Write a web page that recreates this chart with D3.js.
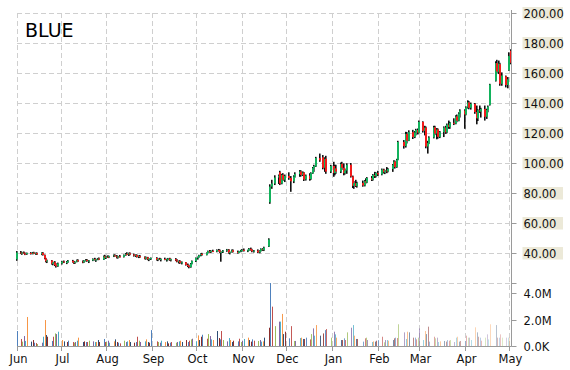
<!DOCTYPE html>
<html><head><meta charset="utf-8">
<script src="https://cdn.jsdelivr.net/npm/d3@7/dist/d3.min.js"></script>
<style>body{margin:0;background:#fff}svg{display:block}</style>
</head><body><svg id="c" width="570" height="370"></svg>
<script>
const title = "BLUE";
const startDate = "2018-06-01", endDate = "2019-05-02";
const holidays = ["2018-07-04","2018-09-03","2018-11-22","2018-12-05","2018-12-25","2019-01-01","2019-01-21","2019-02-18","2019-04-19"];
const priceTicks = [20,40,60,80,100,120,140,160,180,200];
const priceLabelMin = 40;
const volTicks = [0,2,4];
const volTickLabels = ["0.0K","2.0M","4.0M"];

// OHLC per trading day (grouped by month: Jun..May)
const open = [
36,40.5,40,40.5,39.8,39.5,40.2,39.6,40.4,39.9,40.1,39.3,40.3,38.9,36.5,34.6,35.2,33,34,32.2,31.4,
33.2,34.5,33.9,34.2,35,34.1,33.6,34.3,35.4,34.6,33.9,35.1,35.6,34.8,35.2,36.2,35.5,35.9,36.5,35.8,38,
37,37.8,37.4,38.1,38.6,38,37.2,38,37.6,38.9,39.6,39.1,40,39.2,38.4,38.8,37.6,38.2,37.4,36.4,37.3,35.9,36.4,
36.9,35.6,36.3,35.9,36.2,35.7,36,36.5,35.4,36.1,35.2,34.5,34.8,33.6,34,32.3,31.5,30.8,33,
34.8,36.8,37.5,38.6,39.6,38.9,40.2,41.4,40.9,41.6,41.2,42.2,41.6,40.6,41,41.8,42.4,40.3,40.9,42,41,40.2,41.3,
41.8,42.3,41.7,42,43,42.2,41.3,41.8,40.6,41.6,42.8,42.1,44.5,74,84.5,86.5,90.5,94,86.5,92.3,89,
91.6,90.2,88,91.2,92.8,94.5,92.2,93.8,89.2,91.8,89.5,93.4,96.8,98,103.5,104,97,103,94.5,
98.2,93.5,96.5,94.5,99.6,97,93.4,95.2,99,91.2,85,86.8,84.8,86.9,85.2,88.1,87.2,90.2,89,92.2,91.4,
93.5,92.6,95.8,94,95.2,94.6,96.2,98.8,101.2,97.5,102.4,114.2,111.5,119.6,115,120.8,117.5,120.6,122.2,
120.4,127.6,121.6,123.8,111.2,113.5,117.2,124,119.8,122.5,117.6,120.8,123.9,120.6,125.8,124.2,127,126.4,131.2,128.4,133.2,
135.2,132.5,137.2,140.6,137,139.6,134.2,130,135.4,134.5,136.2,131,135.6,139,155,166.8,161,166,153,158,152.2,
162,175];
const high = [
41.5,41.5,41,41.2,40.6,40.5,40.8,40.9,41,40.5,40.6,40.6,40.8,39.2,37,35.8,35.5,34.5,34.8,33.5,33.8,
35,35.2,34.8,35.5,35.6,34.9,34.6,35.8,36,35.2,35.4,36.1,36.2,35.5,36.6,37,36.4,36.9,37.2,38.5,39,
38.2,38.6,38.4,39.2,39.3,38.8,38.3,38.9,39.2,40.2,40.7,40.4,40.6,39.8,39.3,39.2,38.6,38.9,37.9,37.8,37.6,36.8,37.2,
37.4,36.8,37,36.6,37.1,36.4,36.9,37,36.4,36.8,36.2,35.2,35.4,34.6,34.2,33.2,32.4,33.5,35.2,
37.2,37.8,39,40,40.3,40.6,41.8,42.2,42,42.4,42.6,42.9,42.5,41.4,42.2,42.9,42.8,41.2,42.5,42.6,41.8,41.6,42.3,
42.8,43.2,42.4,43.5,43.8,43,42.2,42.6,42,43.3,43.4,44.4,50,86,89,92,92.5,95,93,93.4,92.5,
94,91.5,92,94,95.5,95.3,94.6,94.2,92.5,93.4,94,97.5,99,104.3,106.5,105.5,104,105,99,
101,99,99,100.5,101,100,96.5,100,100.2,91.8,88.2,89,87.7,88.5,88.8,90,90.8,91.5,92.8,94.3,94,
95,96.5,96.4,95.6,97.5,96.8,99.5,102,101.8,103,115,115.5,121,120.8,122,122.3,121.5,123,123.2,
128.5,128,125,124.5,115,118,125,125,123.5,123.2,121.5,124.6,125,126.5,128.5,127.6,130,132,132.5,134,136,
136,138,142,141.5,140.5,140.2,138.5,136,138.5,137,138.5,136.4,138.5,153,168,169,168.5,167,160.6,158.5,157.5,
174,176];
const low = [
35,39.5,39,39.8,38.8,39,39.2,39.3,39.5,39,38.9,38.8,38.5,36,34,33.5,32.5,32,31.5,30.5,31,
32.5,33.5,32.8,33.6,33.8,33,32.9,34,34.2,33.4,33.6,34.6,34.4,33.5,34.8,35.2,34.3,35.4,35.5,35.6,36.5,
36.2,37,36.8,37.5,37.8,36.6,36.5,37.2,37.2,38.4,38.8,38.2,38.7,37.8,37.5,37.2,36.8,37,36,35.8,35.4,34.8,35.6,
35.2,34.8,35.5,34.6,35.4,34.5,35.3,35,34.6,34.8,34,33.2,33,32.6,31.8,30.8,30,30.4,32.6,
34.2,35.8,37,38,38.4,38.6,39.8,40.4,40.2,40.8,40.7,41.2,40.2,34.4,40.2,41,39.8,39.3,40.5,40.6,39.8,40,40.7,
41,41.2,40.8,41.6,41.8,40.7,40.5,40.2,40,41.2,41.6,41.5,44.2,73,83,85.5,86.2,85.5,86,88.2,87.5,
89,81,86.8,90.4,91,91.2,91.5,88.2,88.5,88.4,89,93,94.3,97.6,101,96,94.3,93,93.5,
91,92,93,93.5,95.6,92,92.5,93,90.5,83.5,83,84.2,83.8,84.4,84.6,86.6,86.8,88.2,88.5,90.2,90.6,
91.5,92,93.2,92.8,93.4,94,94.3,96.8,96.5,97,102,109.8,110.5,113.2,114.8,116.2,116.8,118.6,119.2,
120,120.5,118.6,110,106.5,112.8,116.6,118.8,116,116.4,116.8,117.5,119.6,120,123,123,125.5,126,127.4,128,130.5,
123,132,136.5,136,135.8,133,126,128.2,133.6,130.5,128.5,129.6,134,138.5,154.5,160,159.5,151.7,151.7,150.6,150,
161.7,166];
const close = [
40.5,40,40.5,39.8,39.5,40.2,39.6,40.4,39.9,40.1,39.3,40.3,38.9,36.5,34.6,35.2,33,34,32.2,31.4,33.2,
34.5,33.9,34.2,35,34.1,33.6,34.3,35.4,34.6,33.9,35.1,35.6,34.8,35.2,36.2,35.5,35.9,36.5,35.8,38,37,
37.8,37.4,38.1,38.6,38,37.2,38,37.6,38.9,39.6,39.1,40,39.2,38.4,38.8,37.6,38.2,37.4,36.4,37.3,35.9,36.4,36.9,
35.6,36.3,35.9,36.2,35.7,36,36.5,35.4,36.1,35.2,34.5,34.8,33.6,34,32.3,31.5,30.8,33,34.8,
36.8,37.5,38.6,39.6,38.9,40.2,41.4,40.9,41.6,41.2,42.2,41.6,40.6,41,41.8,42.4,40.3,40.9,42,41,40.2,41.3,41.8,
42.3,41.7,42,43,42.2,41.3,41.8,40.6,41.6,42.8,42.1,43.8,49.2,84.5,86.5,90.5,91.8,86.5,92.3,89,91.6,
90.2,88,91.2,92.8,94.5,92.2,93.8,89.2,91.8,89.5,93.4,96.8,98.2,103.5,102,97,103,94.5,98.2,
93.5,96.5,94.5,99.6,97,93.4,95.2,99,91.2,85,86.8,84.8,86.9,85.2,88.1,87.2,90.2,89,92.2,91.4,93.5,
92.6,95.8,94,95.2,94.6,96.2,98.8,101.2,97.5,102.4,114.2,111.5,119.6,115,120.8,117.5,120.6,122.2,120.4,
127.6,121.6,123.8,111.2,113.5,117.2,124,119.8,122.5,117.6,120.8,123.9,120.6,125.8,124.2,127,126.4,131.2,128.4,133.2,135.2,
132.5,137.2,140.6,137,139.6,134.2,130,135.4,134.5,136.2,131,135.6,137.8,152.5,166.8,161.2,166.5,153,158.5,152.2,156,
171.5,167];
// volume in millions
const volume = [
1.13,0.53,0.33,0.75,0.38,2.19,0.33,0.45,0.25,0.22,0.15,0.25,0.7,1.96,0.83,0.7,0.38,0.7,0.95,0.9,1.08,
0.45,0.35,0.3,0.4,0.3,0.25,0.3,0.4,0.63,0.3,0.35,0.3,0.3,0.4,0.35,0.3,0.3,0.45,0.3,0.53,0.3,
0.3,0.4,0.25,0.35,0.5,0.3,0.25,0.2,0.4,0.3,0.35,0.45,0.3,0.25,0.3,0.7,0.4,0.3,0.35,0.5,0.3,0.25,1.2,
0.35,0.3,0.25,0.4,0.3,0.35,0.2,0.25,0.3,0.25,0.3,0.35,0.4,0.3,0.45,0.3,0.4,0.5,0.55,
0.35,0.8,0.45,0.7,0.85,0.55,0.9,0.75,0.5,0.45,1.13,0.6,0.5,1.13,0.45,0.35,0.6,0.45,0.3,0.4,0.35,0.55,0.3,
0.4,0.53,0.63,0.45,0.33,0.5,0.4,0.38,0.45,0.33,0.35,0.63,1.38,4.75,2.97,1.5,1.84,1.84,2.42,0.9,1.08,
0.58,1.5,0.38,0.38,0.6,0.63,0.53,0.53,0.63,0.5,0.9,1.33,0.78,1.58,0.78,0.95,1.2,1.28,0.63,
1.08,0.88,0.63,0.45,0.45,0.58,0.45,1.03,1.38,1.58,0.78,0.53,0.53,0.33,0.58,0.63,0.45,0.3,0.35,0.33,0.4,
0.45,0.7,0.28,0.45,0.45,0.4,0.45,0.58,0.63,0.6,1.64,1.03,0.53,1.08,1.03,0.63,0.63,0.5,0.63,
1.33,0.45,1.13,0.9,1.46,0.33,0.7,0.58,0.63,0.3,0.35,0.38,0.33,0.45,0.4,0.45,0.3,0.63,0.7,0.33,0.38,
0.38,0.78,0.63,0.63,0.45,1.41,1.03,0.7,0.63,0.4,0.63,0.88,0.5,1.64,1.58,0.63,0.63,0.88,0.63,0.63,0.63,
0.63,0.6];
const volColors = ["#4F81BD","#C0504D","#9BBB59","#8064A2","#4BACC6","#F79646","#2C4D75","#8B2E2C"];

const fmt = d3.utcFormat("%Y-%m-%d");
const parse = d3.utcParse("%Y-%m-%d");
const hol = new Set(holidays);
const days = d3.utcDay.range(parse(startDate), d3.utcDay.offset(parse(endDate), 1))
  .filter(d => d.getUTCDay() % 6 !== 0 && !hol.has(fmt(d)));
const n = Math.min(days.length, open.length, high.length, low.length, close.length, volume.length);
const data = d3.range(n).map(i => ({date: days[i], o: open[i], h: high[i], l: low[i], c: close[i], v: volume[i], i}));

const svg = d3.select("#c");
const FONT = "DejaVu Sans, Verdana, sans-serif";
const plotLeft = 16.5, plotRight = 510.5, axisX = 511.5;
const plotTop = 13.3, priceBottom = 283.3, volBottom = 346;

const x = d3.scaleUtc().domain([parse(startDate), parse(endDate)]).range([plotLeft, plotRight]);
const y = d3.scaleLinear().domain([20, 200]).range([priceBottom, plotTop]);
const yv = d3.scaleLinear().domain([0, 4]).range([volBottom, 293]);
const fade = d3.scaleUtc().domain([parse("2018-11-20"), parse(endDate)]).range([1, 0.3]).clamp(true);

const grid = svg.append("g").attr("stroke", "#cfcfcf").attr("stroke-dasharray", "5,3").attr("stroke-width", 1);
const months = d3.utcMonth.range(parse(startDate), parse(endDate));
months.forEach(m => {
  const gx = Math.round(x(m)) + 0.5;
  grid.append("line").attr("x1", gx).attr("x2", gx).attr("y1", Math.round(plotTop)).attr("y2", volBottom);
});
priceTicks.forEach(p => {
  const gy = Math.round(y(p)) + 0.5;
  grid.append("line").attr("x1", Math.round(plotLeft)).attr("x2", axisX).attr("y1", gy).attr("y2", gy);
});

// volume bars
svg.append("g").selectAll("rect").data(data).join("rect")
  .attr("x", d => Math.round(x(d.date)))
  .attr("width", 1)
  .attr("y", d => yv(d.v))
  .attr("height", d => volBottom - yv(d.v))
  .attr("fill", d => volColors[d.i % volColors.length])
  .attr("opacity", d => fade(d.date));

// candles
const cg = svg.append("g");
cg.selectAll("rect.w").data(data).join("rect").attr("class", "w")
  .attr("x", d => Math.round(x(d.date)) - 1)
  .attr("width", 1.6)
  .attr("y", d => y(d.h))
  .attr("height", d => Math.max(1, y(d.l) - y(d.h)))
  .attr("fill", "#111");
cg.selectAll("rect.b").data(data).join("rect").attr("class", "b")
  .attr("x", d => Math.round(x(d.date)) - 1)
  .attr("width", 2)
  .attr("y", d => y(Math.max(d.o, d.c)))
  .attr("height", d => Math.max(1, Math.abs(y(d.o) - y(d.c))))
  .attr("fill", d => d.c >= d.o ? "#12b25c" : "#f21b1b");

// axes lines
svg.append("line").attr("x1", axisX).attr("x2", axisX).attr("y1", 10).attr("y2", volBottom + 0.5).attr("stroke", "#9a9a9a");
svg.append("line").attr("x1", Math.round(plotLeft)).attr("x2", axisX).attr("y1", volBottom + 0.5).attr("y2", volBottom + 0.5).attr("stroke", "#9a9a9a");

// bottom axis
const xAxis = svg.append("g");
months.concat([parse("2019-05-01")]).filter((d,i,a)=>a.findIndex(e=>+e===+d)===i).forEach(m => {
  const gx = Math.round(x(m)) + 0.5;
  xAxis.append("line").attr("x1", gx).attr("x2", gx).attr("y1", volBottom).attr("y2", volBottom + 5).attr("stroke", "#9a9a9a");
  xAxis.append("text").attr("x", gx + 1).attr("y", 363).attr("text-anchor", "middle")
    .attr("font-family", FONT).attr("font-size", 11.5).attr("fill", "#111")
    .text(d3.utcFormat("%b")(m));
});

// right axis
const ra = svg.append("g");
priceTicks.forEach(p => {
  const ty = Math.round(y(p)) + 0.5;
  ra.append("line").attr("x1", axisX).attr("x2", axisX + 5).attr("y1", ty).attr("y2", ty).attr("stroke", "#9a9a9a");
  if (p >= priceLabelMin) {
    ra.append("rect").attr("x", 522.5).attr("y", ty - 6.5).attr("width", 40.5).attr("height", 12.5).attr("fill", "#ECE9D8");
    ra.append("text").attr("x", 523.5).attr("y", ty + 4.2).attr("font-family", FONT).attr("font-size", 11.5).attr("fill", "#111")
      .text(d3.format(".2f")(p));
  }
});
volTicks.forEach((v, k) => {
  const ty = Math.round(yv(v)) + 0.5;
  ra.append("line").attr("x1", axisX).attr("x2", axisX + 5).attr("y1", ty).attr("y2", ty).attr("stroke", "#9a9a9a");
  ra.append("text").attr("x", 523.5).attr("y", ty + 4.2).attr("font-family", FONT).attr("font-size", 11.5).attr("fill", "#111")
    .text(volTickLabels[k]);
});

svg.append("text").attr("x", 25).attr("y", 37).attr("font-family", FONT).attr("font-size", 19).attr("fill", "#000").text(title);

if (n !== open.length || n !== days.length || n !== volume.length || n !== high.length || n !== low.length || n !== close.length) {
  svg.append("text").attr("x", 100).attr("y", 100).attr("fill", "magenta").attr("font-size", 10)
    .text(`days ${days.length} o ${open.length} h ${high.length} l ${low.length} c ${close.length} v ${volume.length}`);
}
</script></body></html>
